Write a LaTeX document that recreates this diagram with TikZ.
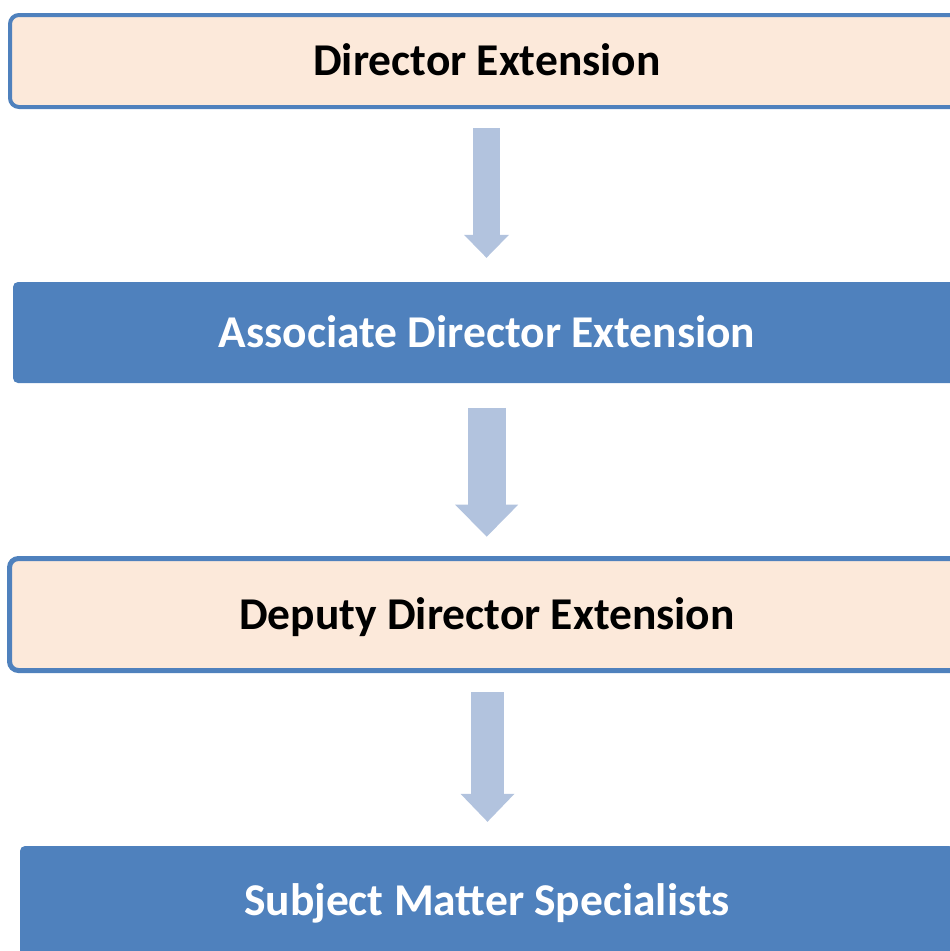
\documentclass[tikz,border=0pt]{standalone}
\usepackage{fontspec}
\setmainfont{Carlito}
\usetikzlibrary{arrows.meta}
\definecolor{peach}{RGB}{252,233,218}
\definecolor{accent}{RGB}{79,129,189}
\definecolor{arrowblue}{RGB}{178,195,222}
\tikzset{
  box/.style={rectangle, font=\fontsize{45.5}{52}\selectfont\bfseries, text height=29pt, text depth=0pt, inner sep=0pt},
  lightbox/.style={box, fill=peach, draw=accent, rounded corners=9pt, text=black},
  darkbox/.style={box, fill=accent, rounded corners=5pt, text=white},
  flow/.style={draw=arrowblue, line width=#1}
}
\begin{document}
\begin{tikzpicture}[x=1pt,y=-1pt]
\useasboundingbox (0,0) rectangle (950,951);
\clip (0,0) rectangle (950,951);
\node[lightbox, line width=4pt, minimum width=954pt, minimum height=92pt] (b1) at (487,61) {Director Extension};
\node[darkbox, minimum width=948pt, minimum height=101pt] (b2) at (487,332.5) {Associate Director Extension};
\node[lightbox, line width=5pt, minimum width=955pt, minimum height=112pt] (b3) at (487,614.5) {Deputy Director Extension};
\node[darkbox, minimum width=934pt, minimum height=110pt] (b4) at (487,901) {Subject Matter Specialists};
\draw[flow=27pt, -{Triangle[width=45pt,length=23pt,line width=0pt,fill=arrowblue]}]
  ([xshift=-0.5pt,yshift=-19pt]b1.south) -- ([xshift=-0.5pt,yshift=24pt]b2.north);
\draw[flow=38pt, -{Triangle[width=63pt,length=32pt,line width=0pt,fill=arrowblue]}]
  ([xshift=-0.3pt,yshift=-24.7pt]b2.south) -- ([xshift=-0.3pt,yshift=19.3pt]b3.north);
\draw[flow=33pt, -{Triangle[width=54pt,length=28pt,line width=0pt,fill=arrowblue]}]
  ([xshift=0.5pt,yshift=-19pt]b3.south) -- ([xshift=0.5pt,yshift=24pt]b4.north);
\end{tikzpicture}
\end{document}
